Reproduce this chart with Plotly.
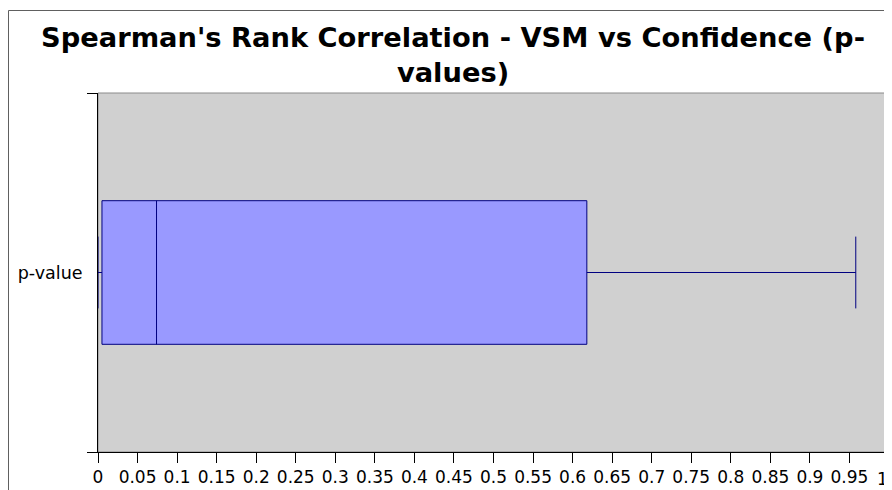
import plotly.graph_objects as go

# Data
categories = ["p-value"]
lower_fence = [0.0]
q1_vals = [0.005]
median_vals = [0.074]
q3_vals = [0.618]
upper_fence = [0.958]
x_tick_vals = [round(i * 0.05, 2) for i in range(21)]
x_tick_text = ["0", "0.05", "0.1", "0.15", "0.2", "0.25", "0.3", "0.35", "0.4", "0.45",
               "0.5", "0.55", "0.6", "0.65", "0.7", "0.75", "0.8", "0.85", "0.9", "0.95", "1"]

W, H = 884, 482
L, R, T, B = 90, 3, 85, 38
PW, PH = W - L - R, H - T - B

fig = go.Figure()
fig.add_trace(go.Box(
    y=categories,
    q1=q1_vals,
    median=median_vals,
    q3=q3_vals,
    lowerfence=lower_fence,
    upperfence=upper_fence,
    orientation="h",
    width=0.4,
    whiskerwidth=0.5,
    fillcolor="#9999ff",
    line=dict(color="#000080", width=1),
    showlegend=False,
    hoverinfo="skip",
))

fig.update_layout(
    width=W, height=H,
    margin=dict(l=L, r=R, t=T, b=B),
    paper_bgcolor="white",
    plot_bgcolor="#d0d0d0",
    font=dict(family="DejaVu Sans", size=17, color="black"),
    title=dict(
        text="<b>Spearman's Rank Correlation - VSM vs Confidence (p-<br>values)</b>",
        x=445 / W, xref="container", xanchor="center",
        y=1 - 39 / H, yref="container", yanchor="top",
        font=dict(family="DejaVu Sans", size=27.3, color="black"),
    ),
    xaxis=dict(
        range=[0, 1], tickmode="array", tickvals=x_tick_vals, ticktext=x_tick_text,
        showgrid=False, zeroline=False, showline=True, linecolor="black", linewidth=1,
        ticks="outside", ticklen=10, tickcolor="black", tickwidth=1,
        tickfont=dict(family="DejaVu Sans", size=17, color="black"),
    ),
    yaxis=dict(
        type="category", range=[-0.5, 0.5], tickson="boundaries",
        showgrid=False, zeroline=False, showline=True, linecolor="black", linewidth=1,
        ticks="outside", ticklen=10, tickcolor="black", tickwidth=1,
        ticklabelstandoff=11,
        tickfont=dict(family="DejaVu Sans", size=17.5, color="black"),
    ),
    shapes=[
        dict(type="rect", xref="paper", yref="paper", x0=0, x1=1, y0=0, y1=1,
             line=dict(color="#8a8a8a", width=1), fillcolor="rgba(0,0,0,0)", layer="below"),
        dict(type="rect", xref="paper", yref="paper",
             x0=(0.5 - L) / PW, x1=1.2, y0=-0.3, y1=(T + PH - 2.5) / PH,
             line=dict(color="#606060", width=1), fillcolor="rgba(0,0,0,0)"),
    ],
    # last tick label ("1") sits at the page edge; drawn so it stays inside the page
    annotations=[
        dict(text=x_tick_text[-1], xref="paper", yref="paper",
             x=(W - 2 - L) / PW, y=0, xanchor="right", yanchor="top",
             yshift=-15, showarrow=False,
             font=dict(family="DejaVu Sans", size=17, color="black")),
    ],
)

fig.write_html("out.html")
